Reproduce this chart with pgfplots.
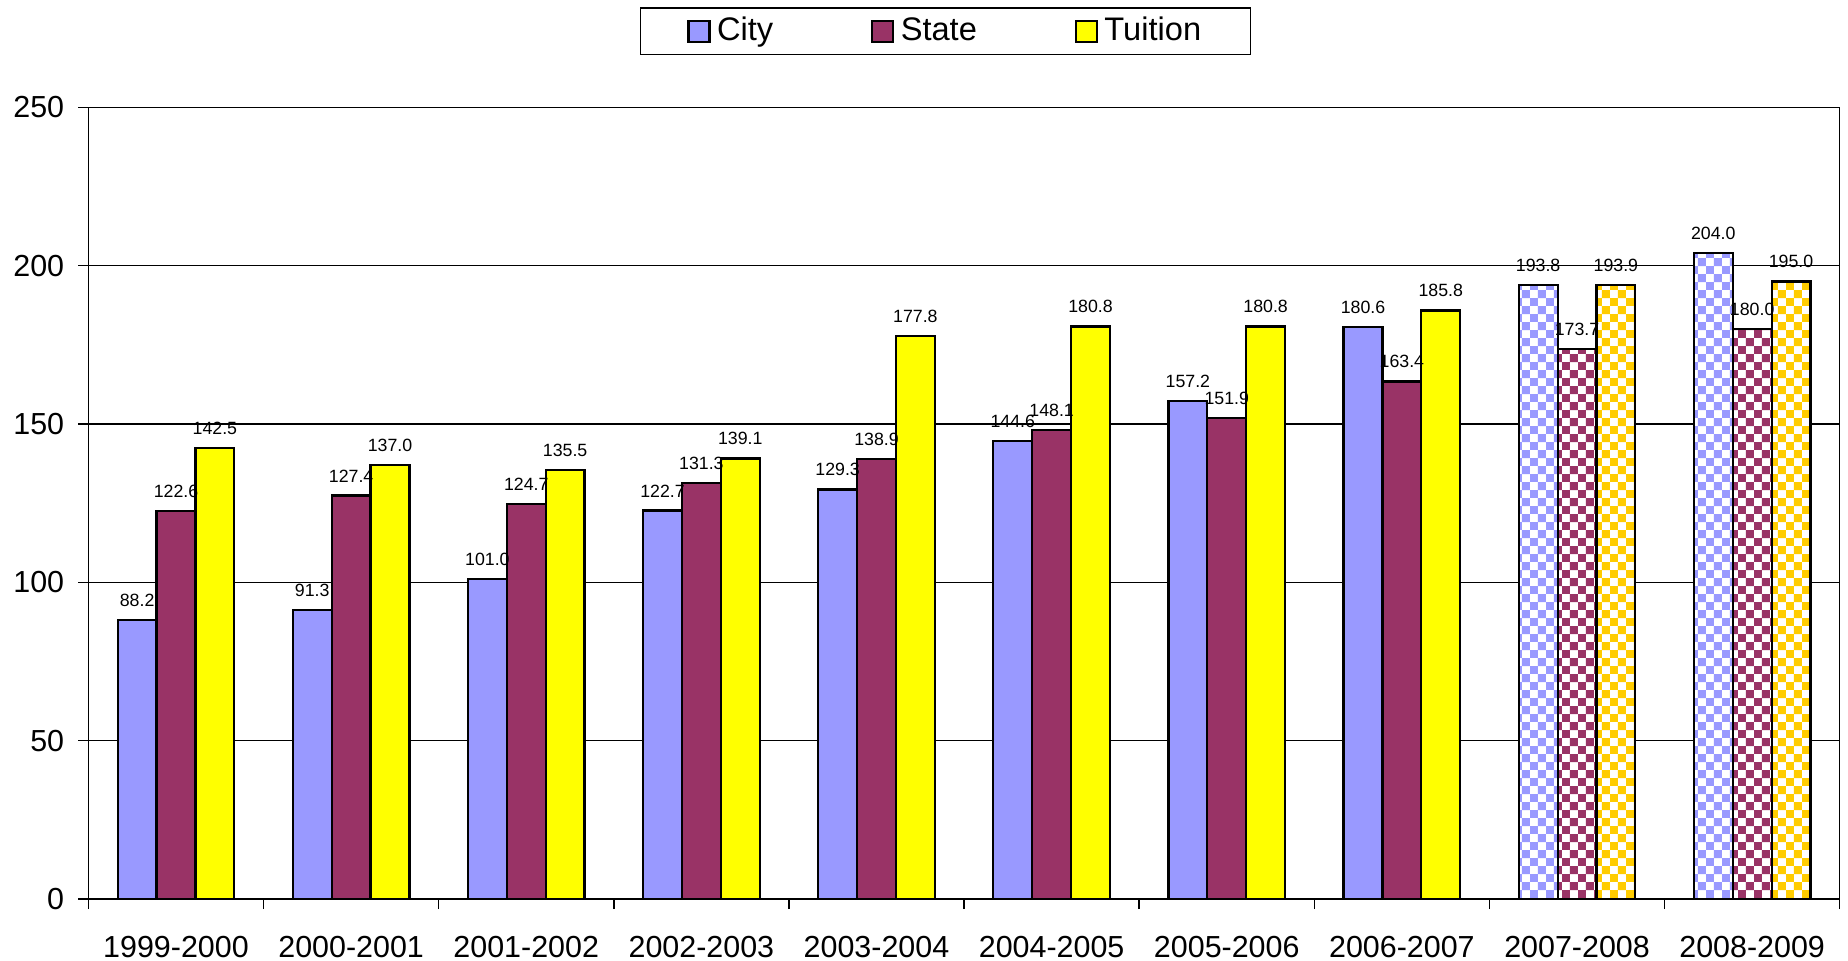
\documentclass[border=0pt]{standalone}
\usepackage{fontspec}
\setmainfont{Liberation Sans}
\usepackage{pgfplots}
\pgfplotsset{compat=1.18}
\usepackage{pgfplotstable}
\usetikzlibrary{patterns}

\definecolor{cityc}{HTML}{9999FF}
\definecolor{statec}{HTML}{993366}
\definecolor{tuitc}{HTML}{FFFF00}
\definecolor{tuitchk}{HTML}{FFCC00}

% small checkerboard for the projected years
\pgfdeclarepatternformonly{checks}{\pgfpointorigin}{\pgfqpoint{4.4pt}{4.4pt}}{\pgfqpoint{4.4pt}{4.4pt}}{%
  \pgfpathrectangle{\pgfpointorigin}{\pgfqpoint{2.2pt}{2.2pt}}%
  \pgfpathrectangle{\pgfqpoint{2.2pt}{2.2pt}}{\pgfqpoint{2.2pt}{2.2pt}}%
  \pgfusepath{fill}}

\pgfplotstableread{
x city state tuition
0 88.2  122.6 142.5
1 91.3  127.4 137.0
2 101.0 124.7 135.5
3 122.7 131.3 139.1
4 129.3 138.9 177.8
5 144.6 148.1 180.8
6 157.2 151.9 180.8
7 180.6 163.4 185.8
8 193.8 173.7 193.9
9 204.0 180.0 195.0
}\budget

\pgfplotsset{
  barbase/.style={ybar, bar width=0.222, line width=0.6pt},
  labels/.style={draw=none, mark=none, forget plot,
    nodes near coords={\pgfmathprintnumber[fixed,fixed zerofill,precision=1,assume math mode=true]{\pgfplotspointmeta}},
    every node near coord/.append style={font=\fontsize{4.9}{5}\selectfont, inner sep=0pt, anchor=south, yshift=3.5pt, black}},
}

\begin{document}
\begin{tikzpicture}
\useasboundingbox (0,0) rectangle (510pt,265.2pt);
\begin{axis}[
  at={(24.4pt,17.1pt)}, anchor=south west,
  scale only axis, width=483.3pt, height=218.5pt,
  xmin=-0.5, xmax=9.5, ymin=0, ymax=250,
  ytick={0,50,...,250},
  xtick={-0.5,0.5,...,9.5},
  x tick label as interval,
  xticklabels={1999-2000,2000-2001,2001-2002,2002-2003,2003-2004,2004-2005,2005-2006,2006-2007,2007-2008,2008-2009},
  tick pos=left,
  tick align=outside, major tick length=2.8pt,
  tick style={black, line width=0.4pt},
  ymajorgrids, grid style={black, line width=0.4pt},
  axis line style={line width=0.4pt},
  /pgf/number format/assume math mode=true,
  tick label style={font=\fontsize{8.4}{9}\selectfont},
  yticklabel style={inner sep=0pt, xshift=-3.7pt},
  xticklabel style={inner sep=0pt, yshift=-7.2pt},
  clip=false,
  legend columns=3,
  legend image code/.code={\draw[#1] (0pt,-2.9pt) rectangle (5.8pt,2.9pt);},
  legend style={at={(0.4893,1.126)}, anchor=north, draw=black, line width=0.4pt,
    font=\fontsize{9}{10}\selectfont, inner xsep=13pt, inner ysep=1.8pt,
    nodes={inner sep=0.6pt},
    /tikz/every odd column/.append style={column sep=1.2pt},
    /tikz/every even column/.append style={column sep=26.4pt}},
  legend cell align=left,
]
% actual years
\addplot[barbase, bar shift=-0.222, fill=cityc, draw=black, restrict x to domain=0:7] table[x=x,y=city]{\budget};
\addplot[barbase, bar shift=0, fill=statec, draw=black, restrict x to domain=0:7] table[x=x,y=state]{\budget};
\addplot[barbase, bar shift=0.222, fill=tuitc, draw=black, restrict x to domain=0:7] table[x=x,y=tuition]{\budget};
\legend{City,State,Tuition}
% projected years, checkered
\addplot[barbase, forget plot, bar shift=-0.222, draw=black, preaction={fill=white}, pattern=checks, pattern color=cityc, restrict x to domain=8:9] table[x=x,y=city]{\budget};
\addplot[barbase, forget plot, bar shift=0, draw=black, preaction={fill=white}, pattern=checks, pattern color=statec, restrict x to domain=8:9] table[x=x,y=state]{\budget};
\addplot[barbase, forget plot, bar shift=0.222, draw=black, preaction={fill=white}, pattern=checks, pattern color=tuitchk, restrict x to domain=8:9] table[x=x,y=tuition]{\budget};
% value labels on top of everything
\addplot[labels] table[x expr=\thisrow{x}-0.222, y=city]{\budget};
\addplot[labels] table[x=x, y=state]{\budget};
\addplot[labels] table[x expr=\thisrow{x}+0.222, y=tuition]{\budget};
\end{axis}
\end{tikzpicture}
\end{document}
